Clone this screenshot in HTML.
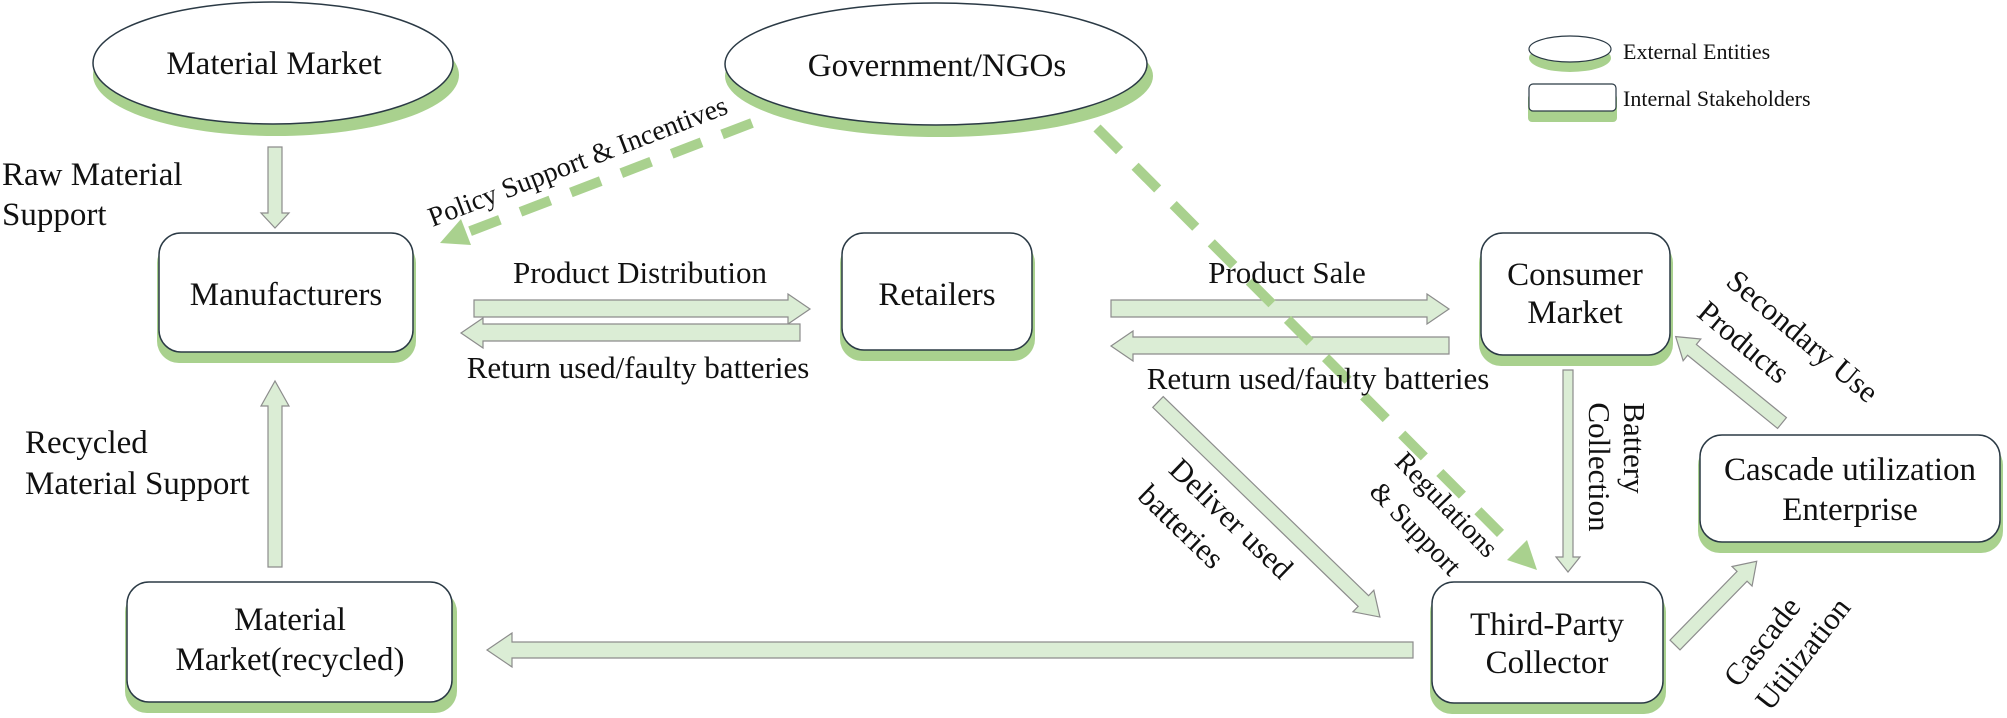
<!DOCTYPE html>
<html><head><meta charset="utf-8"><style>
html,body{margin:0;padding:0;background:#fff;}
svg{display:block;}
text{font-family:"Liberation Serif",serif;fill:#111;}
</style></head><body>
<svg width="2007" height="718" viewBox="0 0 2007 718" xmlns="http://www.w3.org/2000/svg">
<!-- Ellipses -->
<ellipse cx="276" cy="75" rx="183" ry="61" fill="#a9d18e"/>
<ellipse cx="273" cy="63" rx="180" ry="61" fill="#fff" stroke="#2b3a45" stroke-width="1.5"/>
<text x="274" y="74" font-size="33" text-anchor="middle">Material Market</text>

<ellipse cx="939" cy="76" rx="214" ry="61" fill="#a9d18e"/>
<ellipse cx="936" cy="64" rx="211" ry="61" fill="#fff" stroke="#2b3a45" stroke-width="1.5"/>
<text x="937" y="76" font-size="33" text-anchor="middle">Government/NGOs</text>

<!-- Legend -->
<ellipse cx="1570" cy="58" rx="41" ry="14" fill="#a9d18e"/>
<ellipse cx="1570" cy="49" rx="41" ry="13" fill="#fff" stroke="#2b3a45" stroke-width="1.2"/>
<text x="1623" y="59" font-size="22">External Entities</text>
<rect x="1528" y="94" width="89" height="28" rx="4" fill="#a9d18e"/>
<rect x="1529" y="84" width="87" height="27" rx="4" fill="#fff" stroke="#2b3a45" stroke-width="1.2"/>
<text x="1623" y="106" font-size="22">Internal Stakeholders</text>

<!-- Boxes -->
<g stroke-width="1.5">
<rect x="157" y="241" width="259" height="122" rx="22" fill="#a9d18e"/>
<rect x="159" y="233" width="254" height="119" rx="22" fill="#fff" stroke="#2b3a45"/>
<rect x="840" y="241" width="195" height="120" rx="22" fill="#a9d18e"/>
<rect x="842" y="233" width="190" height="117" rx="22" fill="#fff" stroke="#2b3a45"/>
<rect x="1479" y="241" width="194" height="125" rx="22" fill="#a9d18e"/>
<rect x="1481" y="233" width="189" height="122" rx="22" fill="#fff" stroke="#2b3a45"/>
<rect x="1698" y="443" width="305" height="110" rx="22" fill="#a9d18e"/>
<rect x="1700" y="435" width="300" height="107" rx="22" fill="#fff" stroke="#2b3a45"/>
<rect x="1430" y="590" width="236" height="124" rx="22" fill="#a9d18e"/>
<rect x="1432" y="582" width="231" height="121" rx="22" fill="#fff" stroke="#2b3a45"/>
<rect x="125" y="590" width="332" height="123" rx="22" fill="#a9d18e"/>
<rect x="127" y="582" width="325" height="120" rx="22" fill="#fff" stroke="#2b3a45"/>
</g>
<g font-size="33" text-anchor="middle">
<text x="286" y="305">Manufacturers</text>
<text x="937" y="305">Retailers</text>
<text x="1575" y="285">Consumer</text>
<text x="1575" y="323">Market</text>
<text x="1850" y="480">Cascade utilization</text>
<text x="1850" y="520">Enterprise</text>
<text x="1547" y="635">Third-Party</text>
<text x="1547" y="673">Collector</text>
<text x="290" y="630">Material</text>
<text x="290" y="670">Market(recycled)</text>
</g>

<!-- Block arrows -->
<g fill="#dbedd5" stroke="#8c8c8c" stroke-width="1.2">
<polygon points="268,147 282,147 282,213 289,213 275,228 261,213 268,213"/>
<polygon points="268,567 282,567 282,406 289,406 275,381 261,406 268,406"/>
<polygon points="474,300 788,300 788,294 810,309 788,324 788,317 474,317"/>
<polygon points="800,324 483,324 483,318 461,333 483,348 483,341 800,341"/>
<polygon points="1111,300 1427,300 1427,294 1449,309 1427,324 1427,317 1111,317"/>
<polygon points="1449,337 1133,337 1133,331 1111,346 1133,361 1133,354 1449,354"/>
<polygon points="1563,370 1573,370 1573,557 1580,557 1568,572 1556,557 1563,557"/>
<polygon points="1413,642 512,642 512,633 487,650 512,667 512,658 1413,658"/>
<g transform="translate(1158,402) rotate(44.1)"><polygon points="0,-7.5 286,-7.5 286,-15 309,0 286,15 286,7.5 0,7.5"/></g>
<g transform="translate(1782,423) rotate(-140.9)"><polygon points="0,-7 116,-7 116,-14 137,0 116,14 116,7 0,7"/></g>
<g transform="translate(1675,645) rotate(-45.7)"><polygon points="0,-7 96,-7 96,-14 117,0 96,14 96,7 0,7"/></g>
</g>

<!-- Dashed arrows -->
<g stroke="#a9d18e" stroke-width="10" stroke-dasharray="32 22" fill="none">
<line x1="752" y1="123" x2="468" y2="232"/>
<line x1="1097" y1="128" x2="1515" y2="548"/>
</g>
<g fill="#a9d18e">
<polygon points="440,243 471,245 461,219"/>
<polygon points="1537,570 1507,560 1527,540"/>
</g>

<!-- Edge labels -->
<g font-size="33">
<text x="2" y="185">Raw Material</text>
<text x="2" y="225">Support</text>
<text x="25" y="453">Recycled</text>
<text x="25" y="494">Material Support</text>
</g>
<g font-size="31" text-anchor="middle">
<text x="640" y="283">Product Distribution</text>
<text x="638" y="378">Return used/faulty batteries</text>
<text x="1287" y="283">Product Sale</text>
<text x="1318" y="389">Return used/faulty batteries</text>
</g>
<g font-size="28" text-anchor="middle">
<text transform="translate(581,170) rotate(-21)">Policy Support &amp; Incentives</text>
</g>
<g font-size="31" text-anchor="middle">
<text transform="translate(1224,526) rotate(44)">Deliver used</text>
<text transform="translate(1174,534) rotate(44)">batteries</text>
<text transform="translate(1440,511) rotate(46)" font-size="28">Regulations</text>
<text transform="translate(1409,535) rotate(46)" font-size="28">&amp; Support</text>
<text transform="translate(1624,448) rotate(90)">Battery</text>
<text transform="translate(1589,467) rotate(90)">Collection</text>
<text transform="translate(1796,344) rotate(40)">Secondary Use</text>
<text transform="translate(1737,350) rotate(40)">Products</text>
<text transform="translate(1770,648) rotate(-52)">Cascade</text>
<text transform="translate(1811,660) rotate(-52)">Utilization</text>
</g>
</svg>
</body></html>
